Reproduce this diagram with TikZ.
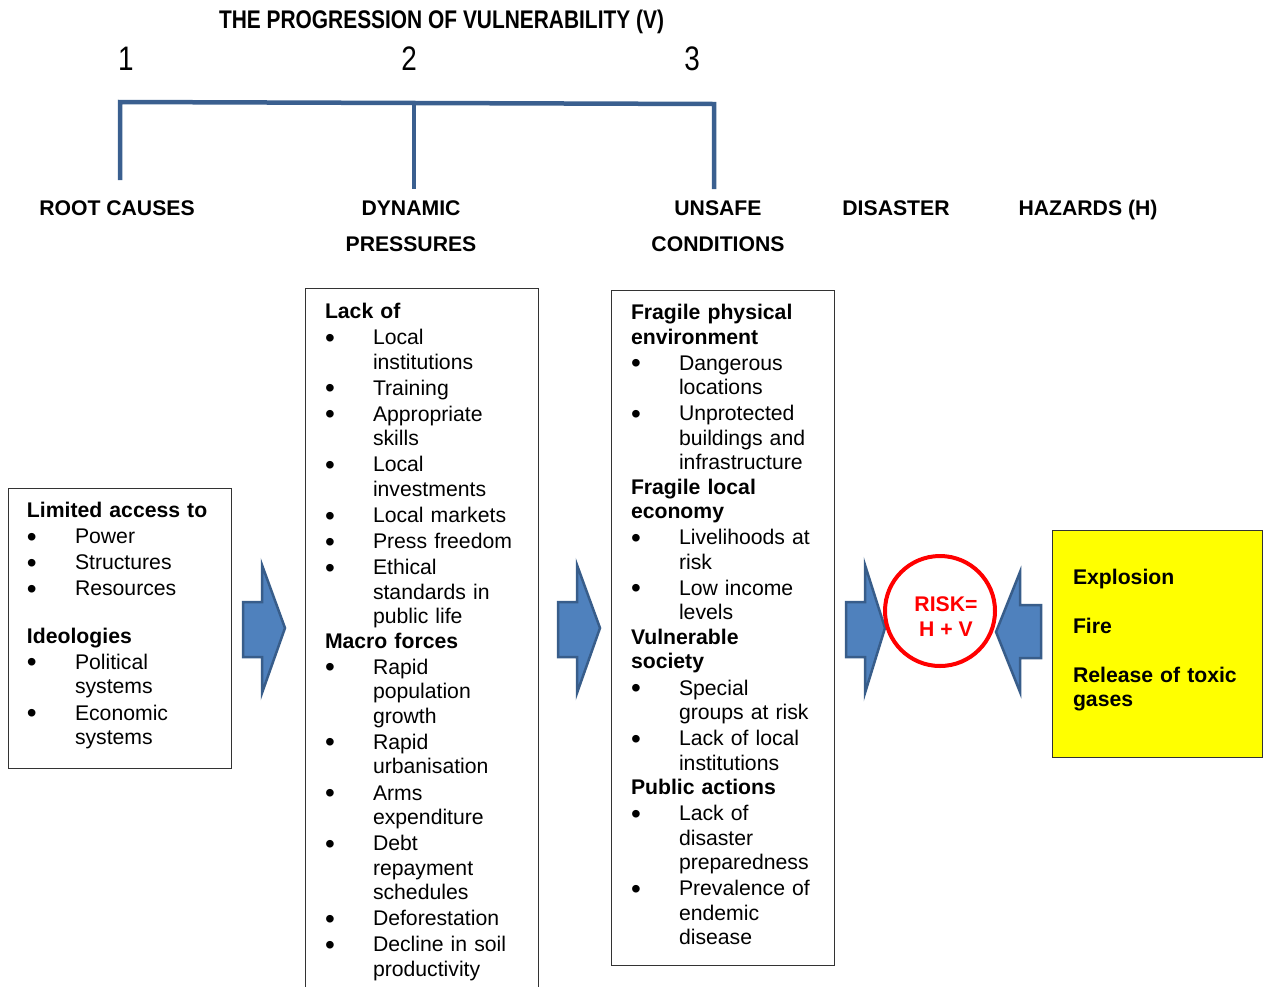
\documentclass[tikz,border=0pt]{standalone}
\usepackage{fontspec}
\setmainfont{Liberation Sans}
\newfontfamily\narrowfont[FakeStretch=0.82]{Liberation Sans}
\definecolor{brk}{HTML}{3A5F8F}
\definecolor{arrfill}{HTML}{4F81BD}
\definecolor{arrline}{HTML}{385D8A}
\definecolor{yel}{HTML}{FFFF00}
\newcommand{\hd}[1]{\par\noindent\textbf{#1}\par}
\newcommand{\bigbul}{\raisebox{-2.5pt}{\fontsize{28pt}{28pt}\selectfont\textbullet}}
\newcommand{\bi}[1]{\par\vspace{1.6pt}\hangindent=48pt\hangafter=1\noindent\hbox to 48pt{\hspace{0pt}\bigbul\hfil}#1\par}
\begin{document}
\begin{tikzpicture}[x=1pt,y=-1pt,
  every node/.style={inner sep=0pt, outer sep=0pt},
  boxline/.style={draw=black!80, line width=1pt},
  blockarrow/.style={fill=arrfill, draw=arrline, line width=2.5pt, line join=miter},
  bracketline/.style={draw=brk, line width=4.5pt, line join=miter},
  hdr/.style={font=\bfseries\fontsize{21.2pt}{25pt}\selectfont, anchor=base},
  boxtext/.style={anchor=base west, text width=240pt, align=left,
     font=\fontsize{21.2pt}{24.5pt}\selectfont}]
\useasboundingbox (0,0) rectangle (1268,986);

% title and numbers
\node[anchor=base, font=\narrowfont\bfseries\fontsize{25.5pt}{28pt}\selectfont] (title) at (441.5,28) {THE PROGRESSION OF VULNERABILITY (V)};
\node[anchor=base, font=\narrowfont\fontsize{34pt}{36pt}\selectfont] (n1) at (126,70) {1};
\node[anchor=base, font=\narrowfont\fontsize{34pt}{36pt}\selectfont] (n2) at (409,70) {2};
\node[anchor=base, font=\narrowfont\fontsize{34pt}{36pt}\selectfont] (n3) at (692,70) {3};

% bracket
\draw[bracketline] (120,180) -- (120,102) -- (714,104) -- (714,189);
\draw[bracketline] (414,103) -- (414,189);

% column headers
\node[hdr] (hroot) at (117,215) {ROOT CAUSES};
\node[hdr] (hdyn1) at (411,215) {DYNAMIC};
\node[hdr] (hdyn2) at (411,251) {PRESSURES};
\node[hdr] (huns1) at (718,215) {UNSAFE};
\node[hdr] (huns2) at (718,251) {CONDITIONS};
\node[hdr] (hdis) at (896,215) {DISASTER};
\node[hdr] (hhaz) at (1088,215) {HAZARDS (H)};

% boxes
\draw[boxline] (8,488) rectangle (231,768);
\draw[boxline] (305,990) -- (305,288) -- (538,288) -- (538,990);
\draw[boxline] (611,290) rectangle (834,965);
\draw[boxline, fill=yel] (1052,530) rectangle (1262,757);

\node[boxtext] (rootbox) at (27,493) {%
\hd{Limited access to}
\bi{Power}
\bi{Structures}
\bi{Resources}
\vspace{23pt}
\hd{Ideologies}
\bi{Political\newline systems}
\bi{Economic\newline systems}
};

\node[boxtext] (dynbox) at (325,294) {%
\hd{Lack of}
\bi{Local\newline institutions}
\bi{Training}
\bi{Appropriate\newline skills}
\bi{Local\newline investments}
\bi{Local markets}
\bi{Press freedom}
\bi{Ethical\newline standards in\newline public life}
\hd{Macro forces}
\bi{Rapid\newline population\newline growth}
\bi{Rapid\newline urbanisation}
\bi{Arms\newline expenditure}
\bi{Debt\newline repayment\newline schedules}
\bi{Deforestation}
\bi{Decline in soil\newline productivity}
};

\node[boxtext] (unsbox) at (631,295) {%
\hd{Fragile physical\newline environment}
\bi{Dangerous\newline locations}
\bi{Unprotected\newline buildings and\newline infrastructure}
\hd{Fragile local\newline economy}
\bi{Livelihoods at\newline risk}
\bi{Low income\newline levels}
\hd{Vulnerable\newline society}
\bi{Special\newline groups at risk}
\bi{Lack of local\newline institutions}
\hd{Public actions}
\bi{Lack of\newline disaster\newline preparedness}
\bi{Prevalence of\newline endemic\newline disease}
};

\node[boxtext, text width=180pt, font=\bfseries\fontsize{21.2pt}{24.5pt}\selectfont] (hazbox) at (1073,584) {%
Explosion\\[24.5pt]Fire\\[24.5pt]Release of toxic\\gases};

% block arrows
\draw[blockarrow] (243,602) -- (262,602) -- (262,565) -- (285,628) -- (262,693) -- (262,657) -- (243,657) -- cycle;
\draw[blockarrow] (558,602) -- (577,602) -- (577,565) -- (600,628) -- (577,693) -- (577,657) -- (558,657) -- cycle;
\draw[blockarrow] (846,602) -- (865,602) -- (865,565) -- (885,628) -- (865,693) -- (865,657) -- (846,657) -- cycle;
\draw[blockarrow] (1041,605) -- (1020,605) -- (1020,572) -- (996,632) -- (1020,692) -- (1020,658) -- (1041,658) -- cycle;

% risk circle
\node[circle, draw=red, line width=4pt, fill=white, minimum size=110pt] (risk) at (940,611) {};
\node[anchor=base, align=center, text=red, font=\bfseries\fontsize{21.2pt}{25pt}\selectfont] (risktext) at (946,636) {RISK=\\H + V};
\end{tikzpicture}
\end{document}
